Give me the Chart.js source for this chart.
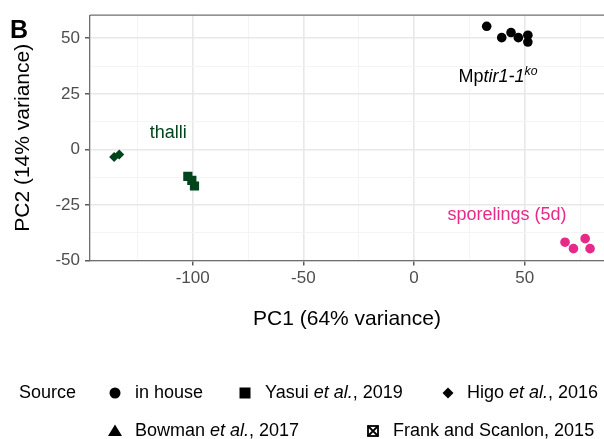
<!DOCTYPE html>
<html>
<head>
<meta charset="utf-8">
<script src="https://cdn.jsdelivr.net/npm/chart.js@4.4.0/dist/chart.umd.min.js"></script>
<style>
  html, body { margin: 0; padding: 0; background: #fff; }
  #wrap { width: 604px; height: 439px; }
</style>
</head>
<body>
<div id="wrap"><canvas id="pca" width="604" height="439"></canvas></div>
<script>
// PCA scores (PC1, PC2)
const mptirPC1 = [32.8, 39.6, 43.8, 47.1, 51.4, 51.4];
const mptirPC2 = [55.4, 50.3, 52.6, 50.3, 51.4, 48.3];
const sporelingPC1 = [68.2, 72.0, 77.3, 79.5];
const sporelingPC2 = [-41.8, -44.7, -40.2, -44.7];
const yasuiPC1 = [-102.2, -100.4, -99.2];
const yasuiPC2 = [-12.2, -14.0, -16.5];
const higoPC1 = [-135.5, -133.2];
const higoPC2 = [-3.5, -2.3];

// grid positions (major ones get a label)
const xTicks = [-125, -100, -75, -50, -25, 0, 25, 50, 75];
const yTicks = [-50, -37.5, -25, -12.5, 0, 12.5, 25, 37.5, 50];
const xMajor = [-100, -50, 0, 50];
const yMajor = [-50, -25, 0, 25, 50];

const FONT = '"Liberation Sans", Arial, Helvetica, sans-serif';
const GREEN = '#00441b';
const PINK = '#e7298a';
const AXIS = '#6e6e6e';

const toXY = (xs, ys) => xs.map((x, i) => ({ x, y: ys[i] }));
const isMajor = (list) => (c) => c.tick && list.includes(c.tick.value);

// draw a line of text made of plain / italic / superscript runs
function drawRuns(ctx, x, y, runs, color, size, align) {
  const fontFor = r => (r.it ? 'italic ' : '') + (r.sup ? size * 0.68 : size) + 'px ' + FONT;
  let total = 0;
  runs.forEach(r => { ctx.font = fontFor(r); total += ctx.measureText(r.t).width; });
  let cx = align === 'center' ? x - total / 2 : x;
  ctx.fillStyle = color;
  ctx.textAlign = 'left';
  ctx.textBaseline = 'middle';
  runs.forEach(r => {
    ctx.font = fontFor(r);
    ctx.fillText(r.t, cx, r.sup ? y - size * 0.33 : y);
    cx += ctx.measureText(r.t).width;
  });
}

function legendSymbol(ctx, kind, x, y) {
  ctx.fillStyle = '#000';
  ctx.strokeStyle = '#000';
  ctx.beginPath();
  if (kind === 'circle') {
    ctx.arc(x, y, 5.5, 0, Math.PI * 2);
    ctx.fill();
  } else if (kind === 'square') {
    ctx.fillRect(x - 5.5, y - 5.5, 11, 11);
  } else if (kind === 'diamond') {
    ctx.moveTo(x, y - 5.5); ctx.lineTo(x + 5.5, y); ctx.lineTo(x, y + 5.5); ctx.lineTo(x - 5.5, y);
    ctx.closePath(); ctx.fill();
  } else if (kind === 'triangle') {
    ctx.moveTo(x, y - 6.5); ctx.lineTo(x + 7, y + 5); ctx.lineTo(x - 7, y + 5);
    ctx.closePath(); ctx.fill();
  } else if (kind === 'boxx') {
    ctx.lineWidth = 1.8;
    ctx.strokeRect(x - 5, y - 5, 10, 10);
    ctx.moveTo(x - 5, y - 5); ctx.lineTo(x + 5, y + 5);
    ctx.moveTo(x + 5, y - 5); ctx.lineTo(x - 5, y + 5);
    ctx.stroke();
  }
}

const legendItems = [
  { kind: 'circle', sx: 115, tx: 135, row: 0, runs: [{ t: 'in house' }] },
  { kind: 'square', sx: 245, tx: 265, row: 0, runs: [{ t: 'Yasui ' }, { t: 'et al.', it: true }, { t: ', 2019' }] },
  { kind: 'diamond', sx: 448, tx: 467, row: 0, runs: [{ t: 'Higo ' }, { t: 'et al.', it: true }, { t: ', 2016' }] },
  { kind: 'triangle', sx: 115, tx: 135, row: 1, runs: [{ t: 'Bowman ' }, { t: 'et al.', it: true }, { t: ', 2017' }] },
  { kind: 'boxx', sx: 373, tx: 393, row: 1, runs: [{ t: 'Frank and Scanlon, 2015' }] }
];

const overlay = {
  id: 'overlay',
  afterDraw(chart) {
    const { ctx, chartArea: a, scales: { x, y } } = chart;
    ctx.save();

    // top edge of the panel
    ctx.strokeStyle = AXIS;
    ctx.lineWidth = 1.3;
    ctx.beginPath();
    ctx.moveTo(a.left, a.top);
    ctx.lineTo(chart.width, a.top);
    ctx.stroke();

    // panel letter
    ctx.fillStyle = '#000';
    ctx.font = 'bold 25px ' + FONT;
    ctx.textAlign = 'left';
    ctx.textBaseline = 'alphabetic';
    ctx.fillText('B', 10, 38);

    // group labels
    drawRuns(ctx, x.getPixelForValue(-111), y.getPixelForValue(7.4), [{ t: 'thalli' }], GREEN, 18, 'center');
    drawRuns(ctx, x.getPixelForValue(37.9), y.getPixelForValue(32.4),
      [{ t: 'Mp' }, { t: 'tir1-1', it: true }, { t: 'ko', it: true, sup: true }], '#000', 18, 'center');
    drawRuns(ctx, x.getPixelForValue(42), y.getPixelForValue(-29.7), [{ t: 'sporelings (5d)' }], PINK, 18, 'center');

    // legend
    const rowY = [393, 431];
    drawRuns(ctx, 19, rowY[0], [{ t: 'Source' }], '#000', 18, 'left');
    legendItems.forEach(item => {
      legendSymbol(ctx, item.kind, item.sx, rowY[item.row]);
      drawRuns(ctx, item.tx, rowY[item.row], item.runs, '#000', 18, 'left');
    });

    ctx.restore();
  }
};

new Chart(document.getElementById('pca').getContext('2d'), {
  type: 'scatter',
  data: {
    datasets: [
      { label: 'Mptir1-1ko', data: toXY(mptirPC1, mptirPC2), pointStyle: 'circle', pointRadius: 4.8, backgroundColor: '#000', borderWidth: 0 },
      { label: 'sporelings (5d)', data: toXY(sporelingPC1, sporelingPC2), pointStyle: 'circle', pointRadius: 4.8, backgroundColor: PINK, borderWidth: 0 },
      { label: 'Yasui', data: toXY(yasuiPC1, yasuiPC2), pointStyle: 'rect', pointRadius: 6.5, backgroundColor: GREEN, borderWidth: 0 },
      { label: 'Higo', data: toXY(higoPC1, higoPC2), pointStyle: 'rectRot', pointRadius: 5, backgroundColor: GREEN, borderWidth: 0 }
    ]
  },
  options: {
    responsive: false,
    animation: false,
    events: [],
    layout: { autoPadding: false, padding: { left: 0, top: 15, right: 0, bottom: 107 } },
    plugins: {
      legend: { display: false },
      tooltip: { enabled: false }
    },
    scales: {
      x: {
        type: 'linear',
        min: -146.4,
        max: 85.8,
        afterBuildTicks: s => { s.ticks = xTicks.map(v => ({ value: v })); },
        ticks: {
          callback: v => xMajor.includes(v) ? String(v) : '',
          font: { family: FONT, size: 17 },
          color: '#4d4d4d',
          padding: 3,
          maxRotation: 0,
          autoSkip: false
        },
        grid: {
          color: c => isMajor(xMajor)(c) ? '#e8e8e8' : '#f4f4f4',
          lineWidth: c => isMajor(xMajor)(c) ? 1.6 : 1,
          tickLength: 5,
          tickWidth: 1.2,
          tickColor: c => isMajor(xMajor)(c) ? '#333' : 'rgba(0,0,0,0)'
        },
        border: { display: true, color: AXIS, width: 1.3 },
        title: {
          display: true,
          text: 'PC1 (64% variance)',
          font: { family: FONT, size: 21 },
          color: '#000',
          padding: { top: 15, bottom: 0 }
        }
      },
      y: {
        type: 'linear',
        min: -50,
        max: 60.4,
        afterBuildTicks: s => { s.ticks = yTicks.map(v => ({ value: v })); },
        afterFit: s => { s.width = 90; },
        ticks: {
          callback: v => yMajor.includes(v) ? String(v) : '',
          font: { family: FONT, size: 17 },
          color: '#4d4d4d',
          padding: 5,
          autoSkip: false
        },
        grid: {
          color: c => isMajor(yMajor)(c) ? '#e8e8e8' : '#f4f4f4',
          lineWidth: c => isMajor(yMajor)(c) ? 1.6 : 1,
          tickLength: 5,
          tickWidth: 1.2,
          tickColor: c => isMajor(yMajor)(c) ? '#333' : 'rgba(0,0,0,0)'
        },
        border: { display: true, color: AXIS, width: 1.3 },
        title: {
          display: true,
          text: 'PC2 (14% variance)',
          font: { family: FONT, size: 21 },
          color: '#000',
          padding: { top: 11, bottom: 0 }
        }
      }
    }
  },
  plugins: [overlay]
});
</script>
</body>
</html>
